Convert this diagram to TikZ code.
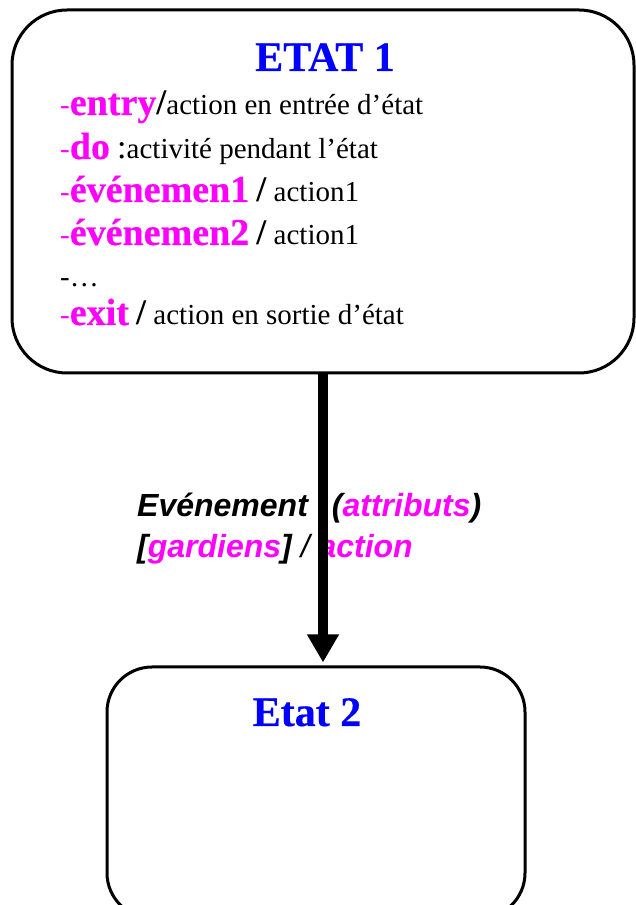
\documentclass[tikz,border=0pt]{standalone}
\usepackage{fontspec}
\setmainfont{Liberation Serif}
\newfontfamily\kwfont{Liberation Serif}[BoldFeatures={FakeBold=0.4}]
\newfontfamily\evfont{Liberation Sans}
\usetikzlibrary{arrows.meta, positioning}
\definecolor{stBlue}{RGB}{0,0,255}
\definecolor{stMagenta}{RGB}{255,0,255}
\newcommand{\kwd}[1]{{\color{stMagenta}\kwfont\fontsize{38}{38}\selectfont\bfseries #1}}
\newcommand{\kwsep}[1]{{\fontsize{36}{36}\selectfont\bfseries #1}}
\newcommand{\hyph}{{\color{stMagenta}-}}
\newcommand{\evk}[1]{\textcolor{stMagenta}{#1}}

\begin{document}
\begin{tikzpicture}[x=1pt, y=1pt,
    statebox/.style={draw, line width=3pt, inner sep=0pt},
    statename/.style={text=stBlue, font=\kwfont\fontsize{42}{42}\selectfont\bfseries, inner sep=0pt, anchor=base},
    entryline/.style={font=\fontsize{29}{29}\selectfont, inner sep=0pt, anchor=base west},
    evline/.style={font=\evfont\fontsize{32}{32}\selectfont\bfseries\itshape, inner sep=0pt, anchor=base west}]
  \useasboundingbox (0,0) rectangle (635,905);
  % the two states
  \node[statebox, rounded corners=55pt, minimum width=622pt, minimum height=363pt] (etat1) at (323,713.5) {};
  \node[statebox, rounded corners=45pt, minimum width=418pt, minimum height=251pt] (etat2) at (316,112.5) {};
  \node[statename] (name1) at (325,834) {ETAT 1};
  \node[statename] (name2) at (307,179) {Etat 2};
  % internal transitions
  \node[entryline] (entry) at (60,790) {\hyph\kwd{entry}\kwsep{/}action en entrée d’état};
  \node[entryline] (do) at (60,746) {\hyph\kwd{do} {\fontsize{34}{34}\selectfont:}activité pendant l’état};
  \node[entryline] (ev1) at (60,703) {\hyph\kwd{événemen1} \kwsep{/} action1};
  \node[entryline] (ev2) at (60,660) {\hyph\kwd{événemen2} \kwsep{/} action1};
  \node[entryline] (dots) at (60,618) {-\dots};
  \node[entryline] (exit) at (60,580) {\hyph\kwd{exit} \kwsep{/} action en sortie d’état};
  % transition label
  \node[evline] (trig) at (137,388) {Evénement\hspace{24pt}(\evk{attributs})};
  \node[evline] (guard) at (137,347) {[\evk{gardiens}] {\mdseries/} \evk{action}};
  \draw[line width=10pt, -{Triangle[width=30pt, length=28pt]}, shorten >=3pt]
    (etat1.south) -- (etat1.south |- etat2.north);
\end{tikzpicture}
\end{document}
